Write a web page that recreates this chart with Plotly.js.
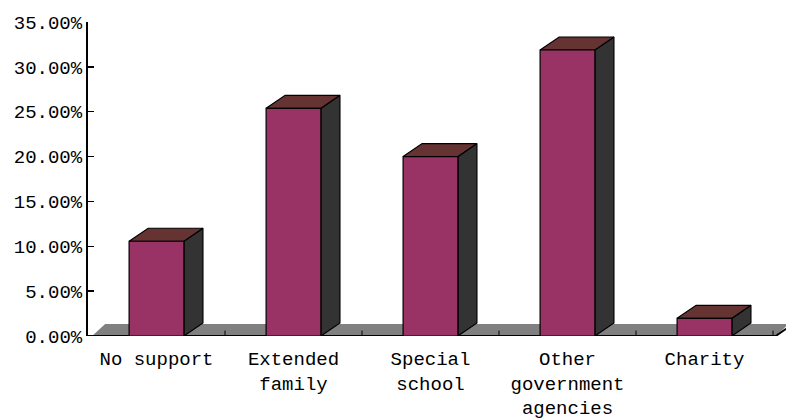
<!DOCTYPE html>
<html>
<head>
<meta charset="utf-8">
<script src="https://cdn.plot.ly/plotly-3.0.1.min.js"></script>
<style>html,body{margin:0;padding:0;background:#fff;}</style>
</head>
<body>
<div id="chart" style="width:786px;height:419px;"></div>
<script>
// ---- data ----
const categories = ['No support', 'Extended<br>family', 'Special<br>school', 'Other<br>government<br>agencies', 'Charity'];
const values = [10.56, 25.38, 20.0, 31.88, 1.97];
const yTickValues = [0, 5, 10, 15, 20, 25, 30, 35];
const yTickLabels = ['0.00%', '5.00%', '10.00%', '15.00%', '20.00%', '25.00%', '30.00%', '35.00%'];

// ---- styling / geometry (not data) ----
const FRONT = '#993366', TOP = '#663333', SIDE = '#333333', FLOOR = '#808080';
const BAR_W = 0.4, DX = 0.139, DY = 1.45;
const FLOOR_DX = 0.095, FLOOR_DY = 1.34;
const n = categories.length;
const xMin = -0.5, xMax = n - 0.5 + FLOOR_DX;
const FONT = {family: 'Liberation Mono, Courier New, monospace', size: 19, color: '#000'};

const traces = [];
const poly = (xs, ys, fill, lw) => ({
  type: 'scatter', mode: 'lines', x: xs, y: ys, fill: 'toself', fillcolor: fill,
  line: {color: '#000', width: lw}, hoverinfo: 'skip', showlegend: false
});

// floor
const fl = -0.47, fr = n - 0.48;
traces.push(poly([fl, fr, fr + FLOOR_DX, fl + FLOOR_DX, fl], [0, 0, FLOOR_DY, FLOOR_DY, 0], FLOOR, 0));

// category boundary ticks on the floor
const tx = [], ty = [];
for (let i = 0; i < n; i++) { const b = i + 0.5; tx.push(b, b, null); ty.push(0, 0.6, null); }
traces.push({type: 'scatter', mode: 'lines', x: tx, y: ty, line: {color: '#000', width: 1}, hoverinfo: 'skip', showlegend: false});

// front axis line of the floor
traces.push({type: 'scatter', mode: 'lines', x: [xMin, fr, fr + FLOOR_DX * 0.8], y: [0, 0, FLOOR_DY * 0.6],
  line: {color: '#000', width: 2}, hoverinfo: 'skip', showlegend: false});

// bars (side, top, front)
values.forEach((v, i) => {
  const x0 = i - BAR_W / 2, x1 = i + BAR_W / 2;
  traces.push(poly([x1, x1 + DX, x1 + DX, x1, x1], [0, DY, v + DY, v, 0], SIDE, 1.2));
  traces.push(poly([x0, x0 + DX, x1 + DX, x1, x0], [v, v + DY, v + DY, v, v], TOP, 1.2));
  traces.push(poly([x0, x1, x1, x0, x0], [0, 0, v, v, 0], FRONT, 1.2));
});

const layout = {
  width: 786, height: 419,
  margin: {l: 88, r: 0, t: 22, b: 83, pad: 0},
  paper_bgcolor: '#fff', plot_bgcolor: '#fff',
  showlegend: false,
  font: FONT,
  xaxis: {
    type: 'linear', range: [xMin, xMax], tickmode: 'array',
    tickvals: categories.map((c, i) => i), ticktext: categories,
    ticks: 'outside', ticklen: 5, tickcolor: 'rgba(0,0,0,0)',
    showline: false, showgrid: false, zeroline: false,
    tickfont: FONT, fixedrange: true
  },
  yaxis: {
    range: [0, 35], tickmode: 'array', tickvals: yTickValues, ticktext: yTickLabels,
    ticks: 'inside', ticklen: 6, tickwidth: 1.5, tickcolor: '#000',
    showline: true, linecolor: '#000', linewidth: 2,
    showgrid: false, zeroline: false, tickfont: FONT, fixedrange: true
  }
};

Plotly.newPlot('chart', traces, layout, {displayModeBar: false, staticPlot: true});
</script>
</body>
</html>
